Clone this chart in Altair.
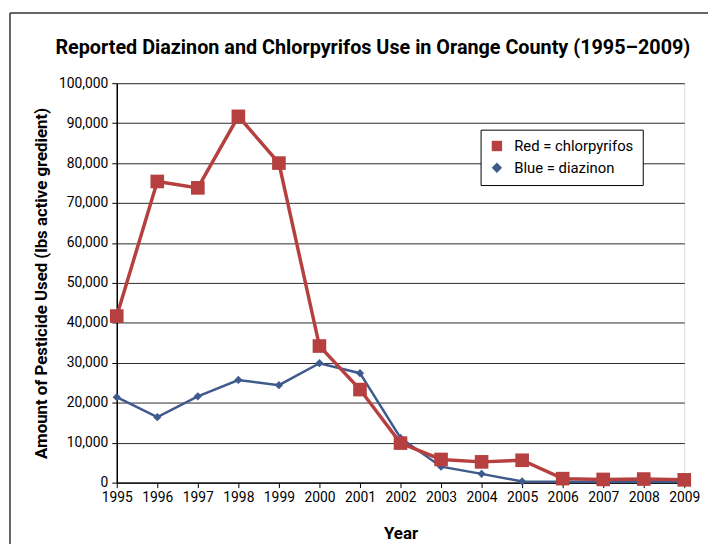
import altair as alt
import pandas as pd

years = list(range(1995, 2010))
chlorpyrifos = [41700, 75400, 73800, 91700, 80000, 34200, 23300, 9900, 5800, 5200, 5600, 1000, 800, 900, 700]
diazinon = [21400, 16400, 21600, 25700, 24400, 29900, 27400, 11200, 4000, 2200, 300, 200, 200, 200, 200]
series_names = ["Red = chlorpyrifos", "Blue = diazinon"]
y_ticks = list(range(0, 100001, 10000))
title_text = "Reported Diazinon and Chlorpyrifos Use in Orange County (1995\u20132009)"

RED = "#B5403F"
BLUE = "#3F5A8C"
FONT = "Roboto"

rows = []
for y, c, d in zip(years, chlorpyrifos, diazinon):
    rows.append({"year": y, "value": c, "series": series_names[0]})
    rows.append({"year": y, "value": d, "series": series_names[1]})
df = pd.DataFrame(rows)

xenc = alt.X("year:Q",
             scale=alt.Scale(domain=[1995, 2009], nice=False, zero=False),
             axis=alt.Axis(values=years, format="d", title="Year", grid=False,
                           labelFontSize=14, labelFont=FONT, labelColor="black",
                           labelPadding=3, tickSize=5, tickColor="black", labelOverlap=False,
                           labelFlush=False,
                           domainColor="black", domainWidth=1.5,
                           titleFont=FONT, titleFontSize=17, titleFontWeight="bold",
                           titleColor="black", titleBaseline="alphabetic", titleY=57))
yenc = alt.Y("value:Q",
             scale=alt.Scale(domain=[0, 100000], nice=False),
             axis=alt.Axis(values=y_ticks, format=",d", title="Amount of Pesticide  Used (lbs active gredient)",
                           grid=True, gridColor="#2a2a2a", gridWidth=1,
                           labelFontSize=14, labelFont=FONT, labelColor="black", labelOverlap=False,
                           labelPadding=4, tickSize=5, tickColor="black",
                           domainColor="black", domainWidth=1.5,
                           titleFont=FONT, titleFontSize=17, titleFontWeight="bold",
                           titleColor="black", titleX=-71, titleY=202, titleAngle=-90,
                           titleAlign="center", titleBaseline="alphabetic"))

color = alt.Color("series:N", scale=alt.Scale(domain=series_names, range=[RED, BLUE]),
                  legend=alt.Legend(title=None, orient="none", legendX=368, legendY=47,
                                    fillColor="white", strokeColor="black", padding=9,
                                    labelFont=FONT, labelFontSize=15, labelColor="black",
                                    symbolSize=110, symbolStrokeWidth=0, rowPadding=6,
                                    labelOffset=10, offset=0))
shape = alt.Shape("series:N", scale=alt.Scale(domain=series_names, range=["square", "diamond"]))

base = alt.Chart(df).encode(x=xenc, y=yenc)

blue_line = base.transform_filter(alt.datum.series == series_names[1]).mark_line(
    color=BLUE, strokeWidth=2.5).encode(detail="series:N")
blue_pts = base.transform_filter(alt.datum.series == series_names[1]).mark_point(
    filled=True, opacity=1, size=70).encode(color=color, shape=shape)
red_line = base.transform_filter(alt.datum.series == series_names[0]).mark_line(
    color=RED, strokeWidth=3.5).encode(detail="series:N")
red_pts = base.transform_filter(alt.datum.series == series_names[0]).mark_point(
    filled=True, opacity=1, size=190).encode(color=color, shape=shape)

one = pd.DataFrame({"t": [title_text]})
frame_left = alt.Chart(one).mark_rule(color="#333333", strokeWidth=1.5).encode(
    x=alt.value(-108), y=alt.value(-71), y2=alt.value(520))
frame_top = alt.Chart(one).mark_rule(color="#333333", strokeWidth=1.5).encode(
    x=alt.value(-108), x2=alt.value(640), y=alt.value(-71))
title = alt.Chart(one).mark_text(font=FONT, fontSize=20, fontWeight="bold", color="black",
                                 align="center", baseline="alphabetic").encode(
    text="t:N", x=alt.value(259), y=alt.value(-30))

chart = alt.layer(frame_left, frame_top, title, blue_line, blue_pts, red_line, red_pts).properties(
    width=574, height=404,
    padding={"left": 110, "top": 73, "right": 24, "bottom": 59},
    autosize=alt.AutoSizeParams(type="none"),
).configure_view(fill="#E6E8E8", stroke="black", strokeWidth=1.2
).configure(background="white")

chart.save("out.html", embed_options={"renderer": "svg", "actions": False})
